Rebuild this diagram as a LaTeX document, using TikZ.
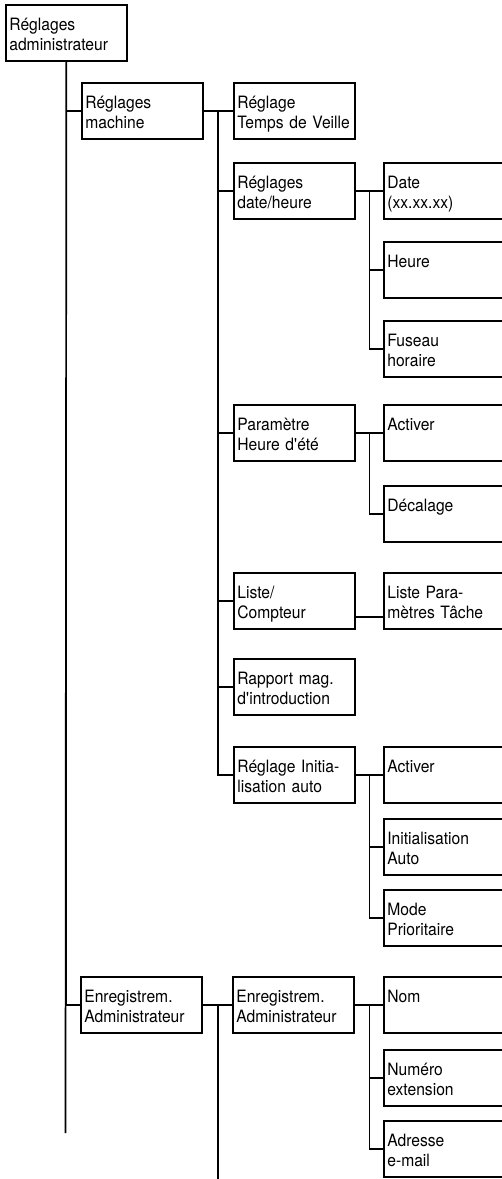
\documentclass[tikz,border=0pt]{standalone}
\usepackage{fontspec}
\setmainfont{TeX Gyre Heros}[FakeStretch=0.92]
\usetikzlibrary{calc}

\tikzset{
  menubox/.style={draw,line width=1.7pt,anchor=north west,
    text width=114pt,inner xsep=3.5pt,inner ysep=0pt,
    text height=25.5pt,text depth=30.5pt,align=left,
    font=\fontsize{17}{20}\selectfont,
    execute at begin node={\linepenalty=5000\relax}},
  branch/.style={line width=1.7pt}
}

\begin{document}
\begin{tikzpicture}[x=1pt,y=-1pt]
\useasboundingbox (0,0) rectangle (502,1179);
\clip (0,0) rectangle (502,1179);

% menu boxes
\node[menubox] (root) at (5,4) {Réglages\\administrateur};

\node[menubox] (machine) at (81,82) {Réglages\\machine};
\node[menubox] (veille) at (233,82) {Réglage\\Temps de Veille};
\node[menubox] (dateheure) at (233,162) {Réglages\\date/heure};
\node[menubox] (date) at (383,162) {Date\\(xx.xx.xx)};
\node[menubox] (heure) at (383,241) {Heure};
\node[menubox] (fuseau) at (383,320) {Fuseau\\horaire};
\node[menubox] (heureete) at (233,404) {Paramètre\\Heure d\textquotesingle été};
\node[menubox] (activer) at (383,404) {Activer};
\node[menubox] (decalage) at (383,485) {Décalage};
\node[menubox] (liste) at (233,572) {Liste/\\Compteur};
\node[menubox] (tache) at (383,572) {Liste Para-\\mètres Tâche};
\node[menubox] (rapport) at (233,658) {Rapport mag.\\d\textquotesingle introduction};
\node[menubox] (initauto) at (233,746) {Réglage Initia-\\lisation auto};
\node[menubox] (activerauto) at (383,746) {Activer};
\node[menubox] (initialisation) at (383,818) {Initialisation\\Auto};
\node[menubox] (prioritaire) at (383,889) {Mode\\Prioritaire};

\node[menubox] (enregA) at (80,976) {Enregistrem.\\Administrateur};
\node[menubox] (enregB) at (232,976) {Enregistrem.\\Administrateur};
\node[menubox] (nom) at (383,976) {Nom};
\node[menubox] (numero) at (383,1049) {Numéro\\extension};
\node[menubox] (adresse) at (383,1120) {Adresse\\e-mail};

% trunks
\coordinate (trunkA) at (65.5,1133);
\coordinate (trunkB) at (218,1182);
\coordinate (trunkC) at (369.5,0);

\draw[branch] (root.south) -- (trunkA);
\draw[branch] (root.south) |- (machine.west);
\draw[branch] (root.south) |- (enregA.west);

\draw[branch] (machine.east) -- (veille.west);
\foreach \n in {dateheure,heureete,liste,rapport,initauto}
  \draw[branch] (machine.east -| trunkB) |- (\n.west);

\draw[branch] (dateheure.east) -- (date.west);
\draw[branch] (date.west -| trunkC) |- (heure.west);
\draw[branch] (date.west -| trunkC) |- (fuseau.west);

\draw[branch] (heureete.east) -- (activer.west);
\draw[branch] (activer.west -| trunkC) |- (decalage.west);

\draw[branch] ([yshift=-16pt]liste.east) -- ([yshift=-16pt]tache.west);

\draw[branch] (initauto.east) -- (activerauto.west);
\draw[branch] (activerauto.west -| trunkC) |- (initialisation.west);
\draw[branch] (activerauto.west -| trunkC) |- (prioritaire.west);

\draw[branch] (enregA.east) -- (enregB.west);
\draw[branch] (enregA.east -| trunkB) -- (trunkB);
\draw[branch] (enregB.east) -- (nom.west);
\draw[branch] (nom.west -| trunkC) |- (numero.west);
\draw[branch] (nom.west -| trunkC) |- (adresse.west);

\end{tikzpicture}
\end{document}
